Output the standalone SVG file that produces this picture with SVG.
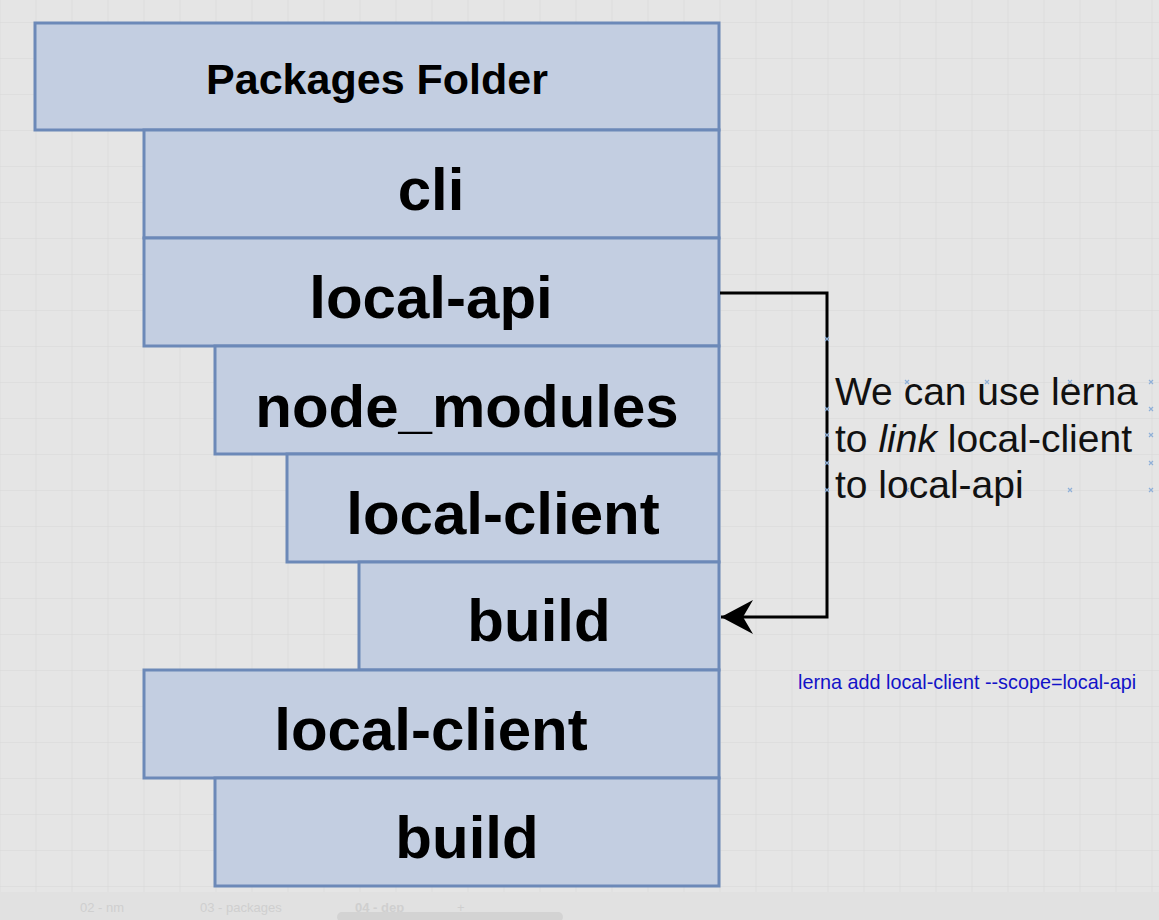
<svg xmlns="http://www.w3.org/2000/svg" width="1159" height="920" viewBox="0 0 1159 920">
<defs>
<pattern id="grid" patternUnits="userSpaceOnUse" x="-0.5" y="22" width="36" height="36">
<path d="M0 0H36M0 0V36" fill="none" stroke="#d8d8d8" stroke-width="1.2"/>
</pattern>
<marker id="arrow" markerWidth="34" markerHeight="36" refX="33" refY="18" orient="auto" markerUnits="userSpaceOnUse">
<path d="M33 18L1 1L11 18L1 35Z" fill="#000"/>
</marker>
<style>
.box rect{fill:#c3cee1;stroke:#6c89b8;stroke-width:3}
.box text{font-family:"Liberation Sans",Arial,sans-serif;font-weight:bold;fill:#000;text-anchor:middle}
.big{font-size:60px}
.note{font-family:"Liberation Sans",Arial,sans-serif;font-size:39px;fill:#111}
.cmd{font-family:"Liberation Sans",Arial,sans-serif;font-size:19.8px;fill:#1212c8}
.tab{font-family:"Liberation Sans",Arial,sans-serif;font-size:13px;fill:#cfcfcf}
.h{stroke:#8fb0d8;stroke-width:1.2}
</style>
</defs>
<rect width="1159" height="920" fill="#e5e5e5"/>
<rect width="1159" height="892" fill="url(#grid)"/>
<rect y="892" width="1159" height="28" fill="#e1e1e1"/>

<g id="packages-folder" class="box"><rect x="35" y="23" width="684" height="107"/><text x="377" y="94" font-size="43">Packages Folder</text></g>
<g id="cli" class="box"><rect x="144" y="130" width="575" height="108"/><text class="big" x="431" y="210">cli</text></g>
<g id="local-api" class="box"><rect x="144" y="238" width="575" height="108"/><text class="big" x="431" y="318">local-api</text></g>
<g id="node-modules" class="box"><rect x="215" y="346" width="504" height="108"/><text class="big" x="467" y="427">node_modules</text></g>
<g id="local-client-1" class="box"><rect x="287" y="454" width="432" height="108"/><text class="big" x="503" y="534">local-client</text></g>
<g id="build-1" class="box"><rect x="359" y="562" width="360" height="108"/><text class="big" x="539" y="641">build</text></g>
<g id="local-client-2" class="box"><rect x="144" y="670" width="575" height="108"/><text class="big" x="431" y="750">local-client</text></g>
<g id="build-2" class="box"><rect x="215" y="778" width="504" height="108"/><text class="big" x="467" y="858">build</text></g>

<g id="connectors">
<path d="M720 293H827V617H721" fill="none" stroke="#000" stroke-width="3" marker-end="url(#arrow)"/>
</g>

<g id="note">
<g class="h">
<path d="M825 337l4 4M829 337l-4 4M905 380l4 4M909 380l-4 4M985 380l4 4M989 380l-4 4M1068 380l4 4M1072 380l-4 4M1149 380l4 4M1153 380l-4 4M825 407l4 4M829 407l-4 4M1149 407l4 4M1153 407l-4 4M825 433l4 4M829 433l-4 4M1149 433l4 4M1153 433l-4 4M825 461l4 4M829 461l-4 4M1149 461l4 4M1153 461l-4 4M825 488l4 4M829 488l-4 4M905 488l4 4M909 488l-4 4M985 488l4 4M989 488l-4 4M1068 488l4 4M1072 488l-4 4M1149 488l4 4M1153 488l-4 4"/>
</g>
<text class="note" x="835" y="405">We can use lerna</text>
<text class="note" x="835" y="452">to <tspan font-style="italic">link</tspan> local-client</text>
<text class="note" x="835" y="498">to local-api</text>
</g>

<g id="command">
<text class="cmd" x="798" y="689">lerna add local-client --scope=local-api</text>
</g>

<g id="tabs">
<text class="tab" x="80" y="912">02 - nm</text>
<text class="tab" x="200" y="912">03 - packages</text>
<text class="tab" x="355" y="912" font-weight="bold">04 - dep</text>
<text class="tab" x="457" y="912" font-size="18">+</text>
<rect x="337" y="912" width="226" height="10" rx="5" fill="#d3d3d3"/>
</g>
</svg>
